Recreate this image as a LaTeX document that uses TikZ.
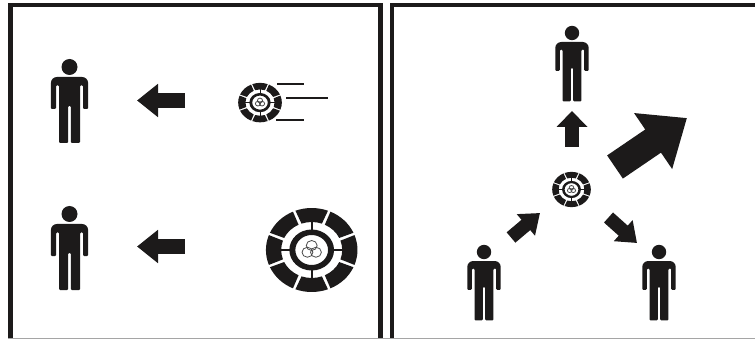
\documentclass[tikz,border=0pt]{standalone}
\usepackage{tikz}
\usetikzlibrary{arrows.meta}
\definecolor{IconBlack}{RGB}{28,26,26}
\definecolor{EdgeGray}{RGB}{165,165,165}
\tikzset{
  panel/.style={draw=IconBlack,line width=4.6pt},
  speedline/.style={draw=IconBlack,line width=2.3pt},
  leftarrow/.style={draw=IconBlack,line width=15pt,-{Triangle[length=21pt,width=32pt,fill=IconBlack]}},
  uparrow/.style={draw=IconBlack,line width=13.5pt,-{Triangle[length=16pt,width=30pt,fill=IconBlack]}},
  smallarrow/.style={draw=IconBlack,line width=13.5pt,-{Triangle[length=18.5pt,width=27pt,fill=IconBlack]}},
  bigarrow/.style={draw=IconBlack,line width=28pt,-{Triangle[length=41pt,width=65pt,fill=IconBlack]}},
  personicon/.pic={
    \fill[IconBlack] (0,0) circle (8pt);
    \fill[IconBlack,rounded corners=6pt] (-18.6,30) -- (-18.6,10) -- (18.6,10) -- (18.6,30)
      [rounded corners=1pt] -- (18.6,42) -- (13.5,42) -- (13.5,18.5) -- (10.5,18.5) -- (10.5,76) -- (1.3,76)
      -- (1.3,39) -- (-1.3,39) -- (-1.3,76) -- (-10.5,76) -- (-10.5,18.5) -- (-13.5,18.5) -- (-13.5,42)
      -- (-18.6,42) -- cycle;
  },
  discicon/.pic={
    \begin{scope}[x=1pt,y=1pt]
    \foreach \a in {0,45,...,315}
      \fill[IconBlack] (\a-20.8:42) arc[start angle=\a-20.8,delta angle=41.6,radius=42]
        -- (\a+19.5:28) arc[start angle=\a+19.5,delta angle=-39,radius=28] -- cycle;
    \foreach \a in {0,90,180,270}
      \fill[IconBlack,rotate=\a] (18,-0.9) rectangle (29,0.9);
    \fill[IconBlack,even odd rule] (0,0) circle (20.5pt) (0,0) circle (15pt);
    \foreach \a in {90,210,330}
      \draw[black!70,line width=0.8pt] (\a:4.5) circle (5pt);
    \end{scope}
  },
}

\begin{document}
\begin{tikzpicture}[x=1pt,y=-1pt]
\useasboundingbox (0,0) rectangle (755,339);
\fill[white] (0,0) rectangle (755,339);
\coordinate (frameA) at (10.3,5);
\coordinate (frameB) at (380.7,345);
\coordinate (frameC) at (392,5);
\coordinate (frameD) at (765,345);
\draw[panel] (frameA) rectangle (frameB);
\draw[panel] (frameC) rectangle (frameD);
\coordinate (edgeL) at (8,338.3);
\coordinate (edgeR) at (755,338.3);
\draw[draw=EdgeGray,line width=1.5pt] (edgeL) -- (edgeR);

\coordinate (p1) at (69.5,67);
\coordinate (p2) at (69.5,214);
\coordinate (p3) at (572,33);
\coordinate (p4) at (484,252);
\coordinate (p5) at (659,252);
\pic at (p1) {personicon};
\pic at (p2) {personicon};
\pic[scale=0.9] at (p3) {personicon};
\pic[scale=0.9] at (p4) {personicon};
\pic[scale=0.9] at (p5) {personicon};

\coordinate (d1) at (260,102.6);
\coordinate (d2) at (311.7,250);
\coordinate (d3) at (571.5,189.5);
\pic[xscale=0.52,yscale=0.47] at (d1) {discicon};
\pic[xscale=1.09] at (d2) {discicon};
\pic[xscale=0.46,yscale=0.42] at (d3) {discicon};

\coordinate (s1a) at (277,83.7);
\coordinate (s1b) at (304,83.7);
\coordinate (s2a) at (286,98);
\coordinate (s2b) at (328,98);
\coordinate (s3a) at (276,119.7);
\coordinate (s3b) at (304,119.7);
\draw[speedline] (s1a) -- (s1b);
\draw[speedline] (s2a) -- (s2b);
\draw[speedline] (s3a) -- (s3b);

\coordinate (a1) at (185,100.5);
\coordinate (a2) at (137,100.5);
\coordinate (b1) at (184.5,246.5);
\coordinate (b2) at (137,246.5);
\coordinate (c1) at (572,147);
\coordinate (c2) at (572,111);
\coordinate (e1) at (615,167);
\coordinate (e2) at (687,118);
\coordinate (f1) at (511,237.5);
\coordinate (f2) at (540,213);
\coordinate (g1) at (608.5,217.5);
\coordinate (g2) at (637,243);
\draw[leftarrow] (a1) -- (a2);
\draw[leftarrow] (b1) -- (b2);
\draw[uparrow] (c1) -- (c2);
\draw[bigarrow] (e1) -- (e2);
\draw[smallarrow] (f1) -- (f2);
\draw[smallarrow] (g1) -- (g2);
\end{tikzpicture}
\end{document}
